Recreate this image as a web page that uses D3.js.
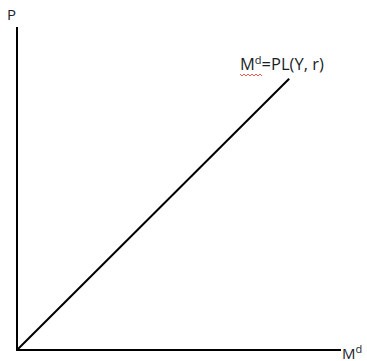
<!DOCTYPE html>
<html lang="en">
  <head>
    <script src="https://d3js.org/d3.v7.min.js"></script>
    <style>
      body { margin: 0; background: #fff; }
      text { font-family: "Open Sans", "Liberation Sans", sans-serif; fill: #1b1f2a; }
    </style>
  </head>
  <body>
    <svg width="367" height="361"></svg>
    <script>
      // money demand curve: straight line through the origin
      var curvePoints = [
        [0, 0],
        [84, 84],
      ];
      var axisLabels = ["P", "M", "d"];
      var curveLabel = ["M", "d", "=PL(Y, r)"];

      var svg = d3.select("svg");

      // scales for the (unitless) axes
      var xScale = d3.scaleLinear().domain([0, 100]).range([17, 341]);
      var yScale = d3.scaleLinear().domain([0, 100]).range([350, 27]);

      // vertical axis
      svg.append("line")
        .attr("x1", xScale(0)).attr("x2", xScale(0))
        .attr("y1", yScale(0) + 1).attr("y2", yScale(100))
        .style("stroke", "#000").style("stroke-width", 2);

      // horizontal axis
      svg.append("line")
        .attr("x1", xScale(0) - 1).attr("x2", xScale(100))
        .attr("y1", yScale(0)).attr("y2", yScale(0))
        .style("stroke", "#000").style("stroke-width", 2);

      // the curve
      var line = d3.line()
        .x(function (d) { return xScale(d[0]); })
        .y(function (d) { return yScale(d[1]); });

      svg.append("path")
        .datum(curvePoints)
        .attr("d", line)
        .style("fill", "none")
        .style("stroke", "#000")
        .style("stroke-width", 2);

      // axis labels
      svg.append("text")
        .attr("x", 7)
        .attr("y", 20)
        .style("font-size", "15px")
        .text(axisLabels[0]);

      var mx = svg.append("text")
        .attr("x", xScale(100) + 1)
        .attr("y", 359)
        .style("font-size", "15px");
      mx.append("tspan").text(axisLabels[1]);
      mx.append("tspan").attr("dy", -6).style("font-size", "11px").text(axisLabels[2]);

      // curve label
      var lab = svg.append("text")
        .attr("x", 240)
        .attr("y", 70)
        .style("font-size", "16.5px");
      lab.append("tspan").text(curveLabel[0]);
      lab.append("tspan").attr("dy", -6).style("font-size", "11px").text(curveLabel[1]);
      lab.append("tspan").attr("dy", 6).text(curveLabel[2]);

      // red squiggle under "Md" (spell-check mark)
      var wave = [];
      for (var i = 0; i <= 11; i++) {
        wave.push([240 + i * 2, i % 2 === 0 ? 74 : 76]);
      }
      svg.append("path")
        .attr("d", d3.line()(wave))
        .style("fill", "none")
        .style("stroke", "#e0302a")
        .style("stroke-width", 0.8);
    </script>
  </body>
</html>
